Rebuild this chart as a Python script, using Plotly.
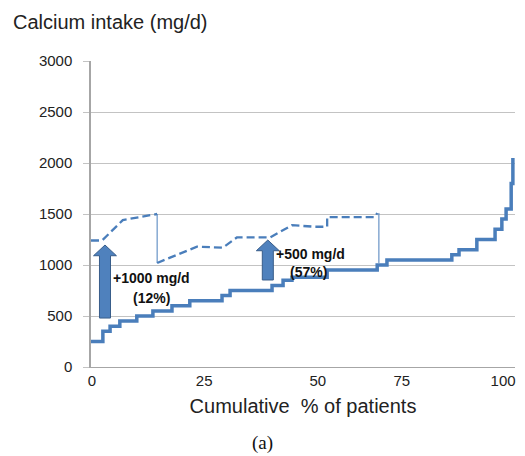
import plotly.graph_objects as go

# ---- data ----
# baseline cumulative calcium intake: step levels (start % , mg/d)
base_x = [0, 2.8, 4.5, 6.8, 10.8, 14.6, 19.1, 23.3, 30.9, 32.8, 42.7, 45.3, 47.4,
          55.7, 67.5, 69.8, 85.1, 86.8, 91.0, 95.3, 96.9, 97.9, 99.1, 99.5]
base_y = [250, 350, 400, 450, 500, 550, 600, 650, 700, 750, 800, 850, 880,
          950, 1000, 1050, 1100, 1150, 1250, 1350, 1450, 1550, 1800, 2050]

# intake after supplementation (two dashed segments)
supp1_x = [0, 2.6, 7.5, 15.6]
supp1_y = [1240, 1240, 1440, 1500]
supp2_x = [15.6, 25.0, 31.1, 34.4, 42.2, 47.4, 52.8, 55.7, 55.7, 67.0, 67.5]
supp2_y = [1020, 1180, 1170, 1270, 1270, 1390, 1375, 1375, 1470, 1470, 1510]

# thin connectors marking the group boundaries
conn_x = [15.6, 67.9]
conn_top = [1500, 1510]
conn_bottom = [1020, 1020]

# arrows: position (%), start and end (mg/d)
arrow_x = [3.3, 41.7]
arrow_from = [480, 853]
arrow_to = [1196, 1245]

# labels
label_text = ["+1000 mg/d", "(12%)", "+500 mg/d", "(57%)"]
label_x = [14.2, 14.3, 51.7, 51.3]
label_y = [873, 676, 1108, 931]

x_tick_pos = [0.2, 26.7, 53.5, 73.3, 97.2]
x_tick_text = ["0", "25", "50", "75", "100"]
y_ticks = [0, 500, 1000, 1500, 2000, 2500, 3000]

# ---- styles ----
BLUE = "#4A7EBB"
ARROW_FILL = "#4F81BD"
ARROW_EDGE = "#385D8A"
GRID = "#C3C3C3"
AXIS = "#A6A6A6"
SHAFT_HW = 1.3
HEAD_HW = 2.7
HEAD_LEN = 105

fig = go.Figure()

# arrows
for ax, y0, y1 in zip(arrow_x, arrow_from, arrow_to):
    yh = y1 - HEAD_LEN
    px = [ax - SHAFT_HW, ax + SHAFT_HW, ax + SHAFT_HW, ax + HEAD_HW, ax,
          ax - HEAD_HW, ax - SHAFT_HW, ax - SHAFT_HW]
    py = [y0, y0, yh, yh, y1, yh, yh, y0]
    fig.add_trace(go.Scatter(x=px, y=py, mode="lines", fill="toself",
                             fillcolor=ARROW_FILL,
                             line=dict(color=ARROW_EDGE, width=1),
                             hoverinfo="skip", showlegend=False))

# connectors
cx, cy = [], []
for x, t, b in zip(conn_x, conn_top, conn_bottom):
    cx += [x, x, None]
    cy += [t, b, None]
fig.add_trace(go.Scatter(x=cx, y=cy, mode="lines",
                         line=dict(color=BLUE, width=1), showlegend=False))

# supplemented (dashed)
fig.add_trace(go.Scatter(x=supp1_x + [None] + supp2_x,
                         y=supp1_y + [None] + supp2_y, mode="lines",
                         line=dict(color=BLUE, width=2.3, dash="8px,4px"),
                         showlegend=False))

# baseline (solid step)
fig.add_trace(go.Scatter(x=base_x, y=base_y, mode="lines", line_shape="hv",
                         line=dict(color=BLUE, width=3.5), showlegend=False))

for t, x, y in zip(label_text, label_x, label_y):
    fig.add_annotation(x=x, y=y, text="<b>" + t + "</b>", showarrow=False,
                       font=dict(family="Liberation Sans", size=14, color="#111"),
                       xanchor="center", yanchor="middle")

fig.add_annotation(xref="paper", yref="paper", x=(262 - 91) / 424,
                   y=-(443 - 367) / 306, text="(a)", showarrow=False,
                   font=dict(family="Liberation Serif", size=19, color="#111"),
                   xanchor="center", yanchor="middle")

fig.update_layout(
    width=525, height=456,
    margin=dict(l=91, r=10, t=61, b=89),
    paper_bgcolor="white", plot_bgcolor="white",
    font=dict(family="Liberation Sans", color="#222"),
    title=dict(text="Calcium intake (mg/d)", xref="container", yref="container",
               x=13 / 525, y=1 - 22 / 456, xanchor="left", yanchor="middle",
               font=dict(size=20, color="#222")),
    xaxis=dict(range=[0, 100], showgrid=False, zeroline=False,
               showline=True, linecolor=AXIS, linewidth=1,
               tickmode="array", tickvals=x_tick_pos, ticktext=x_tick_text,
               ticks="", tickfont=dict(size=15),
               title=dict(text="Cumulative\u00a0 % of patients",
                          font=dict(size=20), standoff=10)),
    yaxis=dict(range=[0, 3000], tickvals=y_ticks, showgrid=True,
               gridcolor=GRID, gridwidth=1, zeroline=False,
               showline=True, linecolor=AXIS, linewidth=1.5,
               ticks="outside", ticklen=6, tickcolor=GRID,
               ticklabelstandoff=8, tickfont=dict(size=15)),
)

fig.write_html("out.html", config={"displayModeBar": False},
               post_script="document.body.style.margin='0px';"
                           "document.body.style.overflow='hidden';")
